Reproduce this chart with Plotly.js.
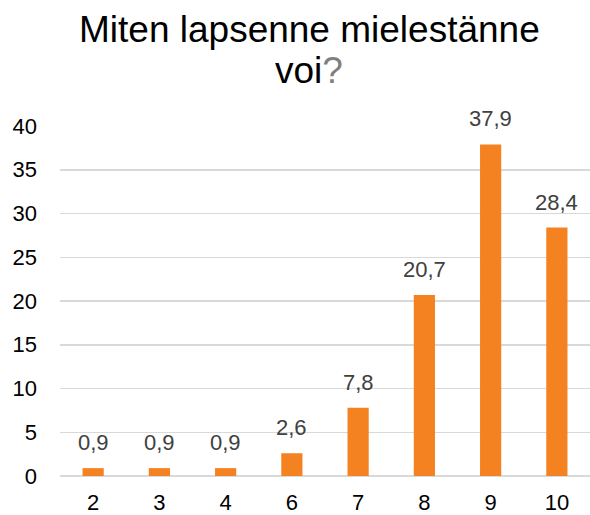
<!DOCTYPE html>
<html><head><meta charset="utf-8">
<script src="https://cdn.plot.ly/plotly-3.0.1.min.js"></script>
<style>html,body{margin:0;padding:0;background:#fff}#c{width:590px;height:515px}</style>
</head><body><div id="c"></div>
<script>
const categories = ["2","3","4","6","7","8","9","10"];
const values = [0.9, 0.9, 0.9, 2.6, 7.8, 20.7, 37.9, 28.4];
const yTicks = [0,5,10,15,20,25,30,35,40];
const titleLine1 = 'Miten lapsenne mielestänne';
const titleLine2 = 'voi<span style="color:#7f7f7f">?</span>';

const FONT = 'Liberation Sans, Arial, sans-serif';
const trace = {
  type: 'bar', x: categories, y: values,
  marker: {color: '#f58220'}, width: 0.32,
  hoverinfo: 'none'
};
const labelAnns = categories.map((c, i) => ({
  x: i, y: values[i], xref: 'x', yref: 'y', text: values[i].toFixed(1).replace('.', ','),
  showarrow: false, xanchor: 'center', yanchor: 'bottom', yshift: 11,
  font: {family: FONT, size: 22, color: '#404040'}
}));
const titleAnns = [
  {text: titleLine1, xref: 'paper', yref: 'paper', x: 0.47, y: 1.277, xanchor: 'center', yanchor: 'middle',
   showarrow: false, font: {size: 37, color: '#000', family: FONT}},
  {text: titleLine2, xref: 'paper', yref: 'paper', x: 0.47, y: 1.16, xanchor: 'center', yanchor: 'middle',
   showarrow: false, font: {size: 37, color: '#000', family: FONT}}
];
const layout = {
  width: 590, height: 515,
  margin: {l: 60, r: 0, t: 126, b: 39},
  separators: ',.',
  paper_bgcolor: '#fff', plot_bgcolor: '#fff',
  showlegend: false,
  font: {family: FONT, color: '#000'},
  annotations: titleAnns.concat(labelAnns),
  xaxis: {type: 'category', range: [-0.5, categories.length - 0.5], autorange: false,
    tickfont: {size: 22, color: '#000'}, showgrid: false,
    showline: false, zeroline: false, ticks: '', ticklabelstandoff: 11},
  yaxis: {range: [0, 40], autorange: false, tickvals: yTicks, tickfont: {size: 22, color: '#000'},
    showgrid: true, gridcolor: '#d9d9d9', gridwidth: 1.5, zeroline: true,
    zerolinecolor: '#d9d9d9', zerolinewidth: 1.5, showline: false, ticks: '',
    ticklabelstandoff: 22}
};
Plotly.newPlot('c', [trace], layout, {staticPlot: true, displayModeBar: false});
</script></body></html>
